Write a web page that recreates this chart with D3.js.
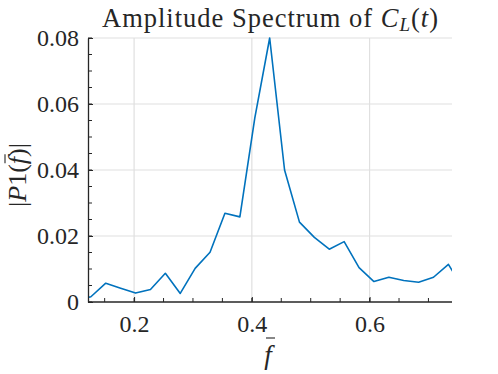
<!DOCTYPE html>
<html>
<head>
<meta charset="utf-8">
<script src="https://cdn.jsdelivr.net/npm/d3@7"></script>
<style>
  body { margin: 0; background: #fff; }
  svg text { font-family: "Liberation Serif", "DejaVu Serif", serif; fill: #262626; }
</style>
</head>
<body>
<svg id="chart" width="498" height="374"></svg>
<script>
// normalised frequency (f bar) and single-sided amplitude |P1|
const freq = [0.1013, 0.1266, 0.1519, 0.1772, 0.2025, 0.2278, 0.2531, 0.2784, 0.3037,
  0.3290, 0.3543, 0.3797, 0.4050, 0.4303, 0.4556, 0.4809, 0.5062, 0.5315, 0.5568,
  0.5821, 0.6074, 0.6327, 0.6580, 0.6833, 0.7086, 0.7339, 0.7593];
const amp = [0.0006, 0.0016, 0.0057, 0.0042, 0.0027, 0.0038, 0.0087, 0.0026, 0.0102,
  0.0151, 0.0269, 0.0258, 0.0557, 0.0800, 0.0400, 0.0242, 0.0196, 0.0160, 0.0183,
  0.0104, 0.0062, 0.0075, 0.0065, 0.0060, 0.0075, 0.0114, 0.0040];

const xTicks = [0.2, 0.4, 0.6];
const yTicks = [0, 0.02, 0.04, 0.06, 0.08];

const margin = { left: 88, right: 46, top: 38, bottom: 72 };
const width = 498, height = 374;

const svg = d3.select("#chart");

const x = d3.scaleLinear().domain([0.1217, 0.7400]).range([margin.left, width - margin.right]);
const y = d3.scaleLinear().domain([0, 0.08]).range([height - margin.bottom, margin.top]);
const xc = (x.range()[0] + x.range()[1]) / 2;

// grid
const grid = svg.append("g").attr("stroke", "#e0e0e0").attr("stroke-width", 1.2);
grid.selectAll(".gx").data(xTicks).join("line")
  .attr("x1", d => x(d)).attr("x2", d => x(d))
  .attr("y1", y(0)).attr("y2", y(0.08));
grid.selectAll(".gy").data(yTicks.filter(d => d > 0)).join("line")
  .attr("y1", d => y(d)).attr("y2", d => y(d))
  .attr("x1", x.range()[0]).attr("x2", x.range()[1]);

// data line, clipped to the axes box
svg.append("clipPath").attr("id", "clip").append("rect")
  .attr("x", x.range()[0]).attr("y", y.range()[1] - 2)
  .attr("width", x.range()[1] - x.range()[0]).attr("height", y.range()[0] - y.range()[1] + 2);

const line = d3.line().x((d, i) => x(freq[i])).y(d => y(d));
svg.append("path")
  .datum(amp)
  .attr("clip-path", "url(#clip)")
  .attr("fill", "none")
  .attr("stroke", "#0072BD")
  .attr("stroke-width", 1.6)
  .attr("stroke-linejoin", "round")
  .attr("d", line);

// minor ticks
const xMinor = d3.range(0.15, 0.74, 0.05);
const yMinor = d3.range(0, 0.0801, 0.005);
const ticks = svg.append("g").attr("stroke", "#262626").attr("stroke-width", 1);
ticks.selectAll(".mx").data(xMinor).join("line")
  .attr("x1", d => x(d)).attr("x2", d => x(d))
  .attr("y1", y(0)).attr("y2", d => y(0) - 4);
ticks.selectAll(".my").data(yMinor).join("line")
  .attr("y1", d => y(d)).attr("y2", d => y(d))
  .attr("x1", x.range()[0]).attr("x2", x.range()[0] + 4);

// axes
const xAxis = d3.axisBottom(x).tickValues(xTicks).tickSizeInner(-5).tickSizeOuter(0)
  .tickPadding(13).tickFormat(d3.format(".1f"));
const yAxis = d3.axisLeft(y).tickValues(yTicks).tickSizeInner(-5).tickSizeOuter(0)
  .tickPadding(9).tickFormat(d => d === 0 ? "0" : d3.format(".2f")(d));

const gx = svg.append("g").attr("transform", `translate(0,${y(0)})`).call(xAxis);
const gy = svg.append("g").attr("transform", `translate(${x.range()[0]},0)`).call(yAxis);
[gx, gy].forEach(g => {
  g.attr("font-family", "Liberation Serif, serif");
  g.select(".domain").attr("stroke", "#262626").attr("stroke-width", 1.3);
  g.selectAll(".tick line").attr("stroke", "#262626");
  g.selectAll(".tick text").attr("font-size", 24).attr("fill", "#262626");
});
gx.select(".domain").attr("d", `M${x.range()[0]},0H${x.range()[1]}`);

// title
const title = svg.append("text")
  .attr("x", xc)
  .attr("y", 27)
  .attr("text-anchor", "middle")
  .attr("font-size", 26.5)
  .attr("textLength", 336)
  .attr("lengthAdjust", "spacing");
title.append("tspan").text("Amplitude Spectrum of ");
title.append("tspan").attr("font-style", "italic").text("C");
title.append("tspan").attr("font-style", "italic").attr("font-size", 19).attr("dy", 4).text("L");
title.append("tspan").attr("dy", -4).text("(");
title.append("tspan").attr("font-style", "italic").text("t");
title.append("tspan").text(")");

// x label: f with a bar
svg.append("text")
  .attr("x", xc - 2)
  .attr("y", 364)
  .attr("text-anchor", "middle")
  .attr("font-size", 27)
  .attr("font-style", "italic")
  .text("f");
svg.append("line")
  .attr("x1", xc - 4).attr("x2", xc + 5)
  .attr("y1", 338).attr("y2", 338)
  .attr("stroke", "#262626").attr("stroke-width", 1.1);

// y label |P1(f bar)|
const yc = 175;
const yl = svg.append("g").attr("transform", `translate(26,${yc}) rotate(-90)`);
const ylt = yl.append("text")
  .attr("text-anchor", "middle")
  .attr("font-size", 26);
ylt.append("tspan").text("|");
ylt.append("tspan").attr("font-style", "italic").text("P");
ylt.append("tspan").text("1(");
ylt.append("tspan").attr("font-style", "italic").text("f");
ylt.append("tspan").text(")|");
// bar over f in y label
const fStart = ylt.node().getStartPositionOfChar(4);
yl.append("line")
  .attr("x1", fStart.x + 1).attr("x2", fStart.x + 10)
  .attr("y1", -21).attr("y2", -21)
  .attr("stroke", "#262626").attr("stroke-width", 1.1);
</script>
</body>
</html>
